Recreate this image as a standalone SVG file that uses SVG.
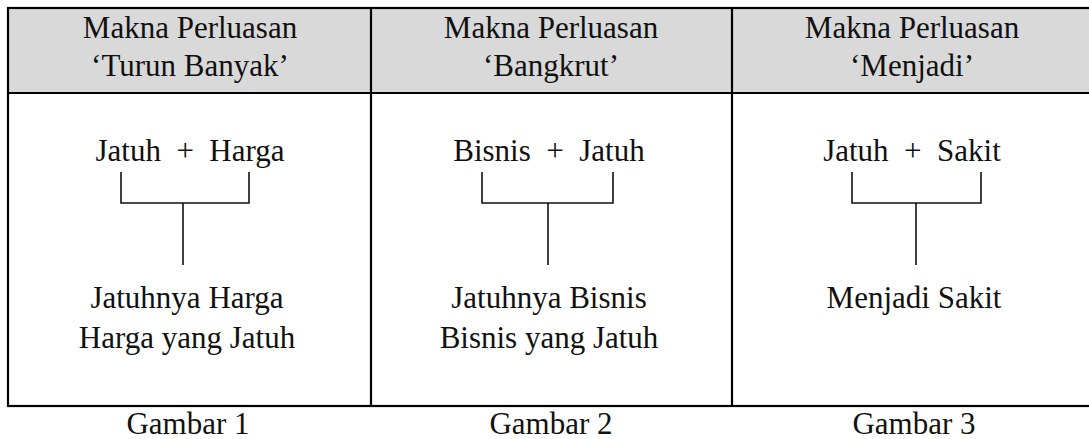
<svg xmlns="http://www.w3.org/2000/svg" width="1089" height="439" viewBox="0 0 1089 439" font-family="Liberation Serif, serif">
  <style>
    text { font-family: 'Liberation Serif', serif; font-size: 31px; fill: #111; text-anchor: middle; white-space: pre; }
    .grid { stroke: #000; stroke-width: 2.2; fill: none; }
    .bracket { stroke: #111; stroke-width: 1.6; fill: none; }
  </style>

  <!-- table frame -->
  <g id="table">
    <rect x="8" y="8" width="1090" height="85" fill="#d9d9d9"/>
    <rect x="8" y="8" width="1090" height="398" fill="none" class="grid"/>
    <line x1="8" y1="93" x2="1098" y2="93" class="grid"/>
    <line x1="371" y1="8" x2="371" y2="406" class="grid"/>
    <line x1="732" y1="8" x2="732" y2="406" class="grid"/>
  </g>

  <!-- column 1 -->
  <g id="col1">
    <text x="190" y="38">Makna Perluasan</text>
    <text x="190" y="76">‘Turun Banyak’</text>
    <text x="190" y="161">Jatuh  +  Harga</text>
    <text x="187" y="308">Jatuhnya Harga</text>
    <text x="187" y="348">Harga yang Jatuh</text>
    <text x="188" y="434">Gambar 1</text>
  </g>

  <!-- column 2 -->
  <g id="col2">
    <text x="551" y="38">Makna Perluasan</text>
    <text x="551" y="76">‘Bangkrut’</text>
    <text x="549" y="161">Bisnis  +  Jatuh</text>
    <text x="549" y="308">Jatuhnya Bisnis</text>
    <text x="549" y="348">Bisnis yang Jatuh</text>
    <text x="551" y="434">Gambar 2</text>
  </g>

  <!-- column 3 -->
  <g id="col3">
    <text x="912" y="38">Makna Perluasan</text>
    <text x="912" y="76">‘Menjadi’</text>
    <text x="912" y="161">Jatuh  +  Sakit</text>
    <text x="914" y="308">Menjadi Sakit</text>
    <text x="914" y="434">Gambar 3</text>
  </g>

  <!-- joining brackets -->
  <g id="connectors">
    <path class="bracket" d="M121 172 V203 H249 V172 M183 203 V265"/>
    <path class="bracket" d="M482 172 V203 H613 V172 M548 203 V265"/>
    <path class="bracket" d="M852 172 V203 H981 V172 M916 203 V265"/>
  </g>
</svg>
